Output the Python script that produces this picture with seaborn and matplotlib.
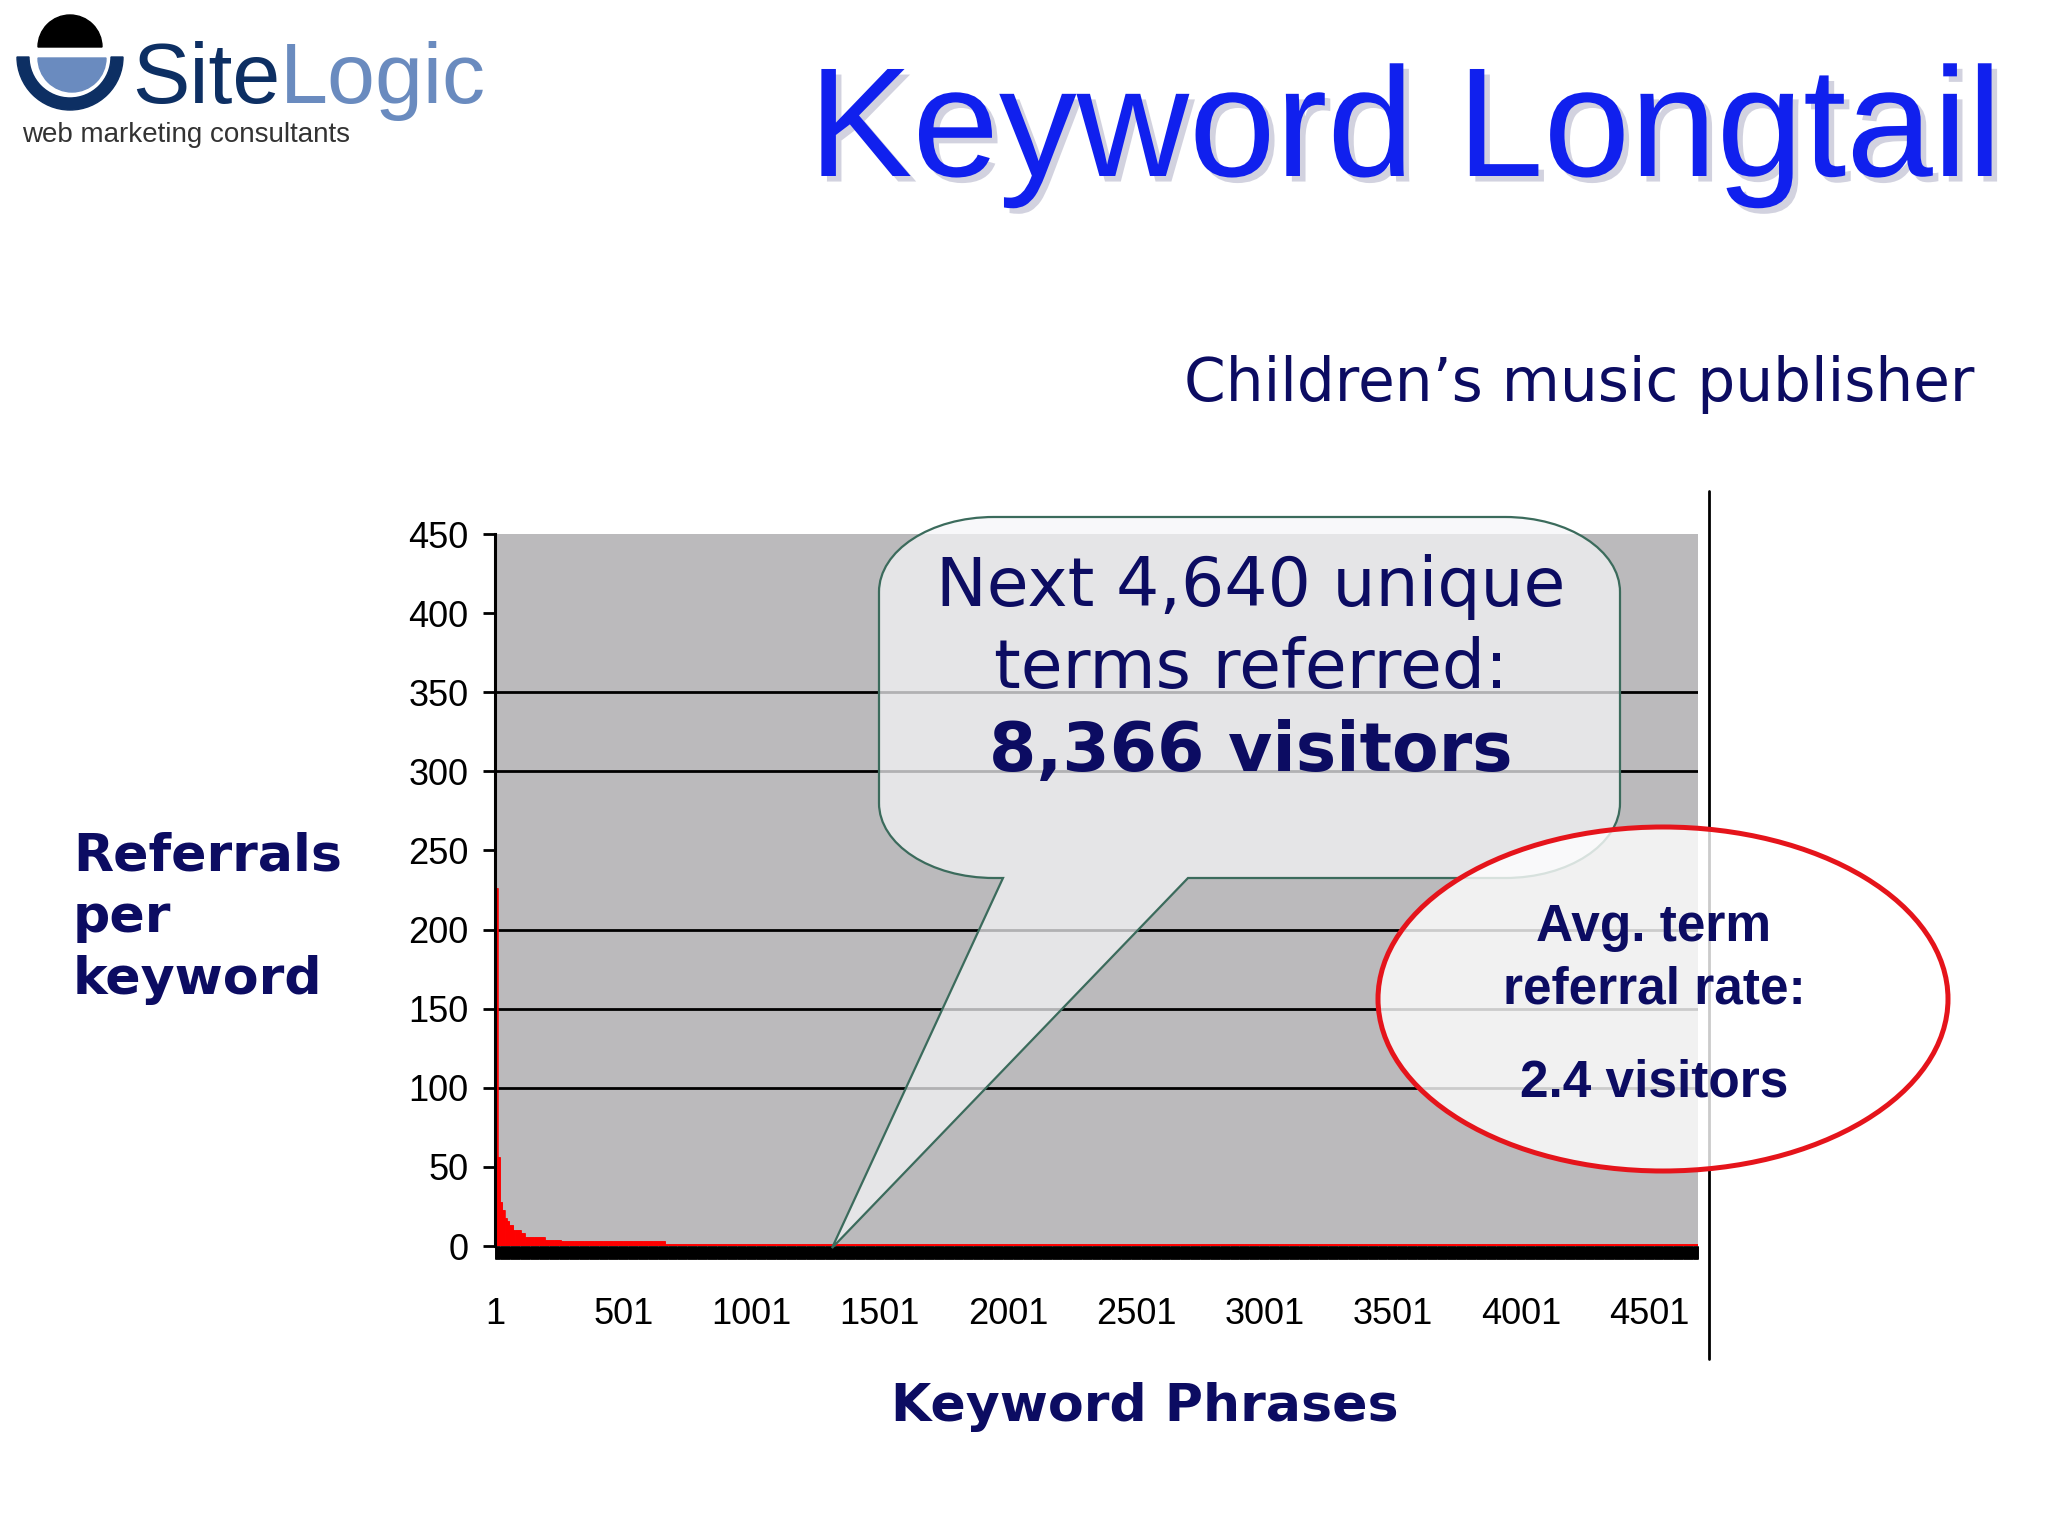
import numpy as np
import pandas as pd
import matplotlib
matplotlib.use('Agg')
import matplotlib.pyplot as plt
import seaborn as sns
from matplotlib.path import Path
from matplotlib.patches import PathPatch, Ellipse, Wedge
from matplotlib.transforms import Affine2D
from matplotlib.ticker import FixedLocator
from matplotlib.lines import Line2D
import matplotlib.patheffects as pe

ref_levels = [226, 56, 28, 23, 18, 16, 13, 10, 8, 6, 4, 3, 1]
ref_counts = [10, 10, 9, 9, 8, 10, 16, 29, 16, 77, 64, 405, 4027]
n_terms = sum(ref_counts)

x_ticks = [1, 501, 1001, 1501, 2001, 2501, 3001, 3501, 4001, 4501]
y_ticks = [0, 50, 100, 150, 200, 250, 300, 350, 400, 450]
grid_levels = [100, 150, 200, 300, 350]

df = pd.DataFrame({'rank': np.arange(1, n_terms + 1),
                   'refs': np.repeat(ref_levels, ref_counts)})

sns.set_theme(style='white')
plt.rcParams['font.family'] = ['DejaVu Sans']

navy = '#0c0c62'
W, H = 2048, 1536
fig = plt.figure(figsize=(W / 100, H / 100), dpi=100)
fig.patch.set_facecolor('white')
# pixel coords of the slide, y pointing down
px = Affine2D().scale(1 / W, -1 / H).translate(0, 1) + fig.transFigure

ax = fig.add_axes([495 / W, 1 - 1246 / H, 1203 / W, (1246 - 534) / H])
ax.set_facecolor('#bbbabc')
sns.barplot(data=df, x='rank', y='refs', native_scale=True, color='#ff0000',
            saturation=1, width=1, edgecolor='#ff0000', linewidth=0.4,
            errorbar=None, ax=ax, zorder=2)
ax.set_xlim(0.5, n_terms + 0.5)
ax.set_ylim(0, 450)
for g in grid_levels:
    ax.axhline(g, color='black', lw=2, zorder=1)

for s in ['top', 'right', 'bottom']:
    ax.spines[s].set_visible(False)
ax.spines['left'].set_color('black')
ax.spines['left'].set_linewidth(2.2)
ax.spines['left'].set_zorder(3)

ax.set_yticks(y_ticks)
ax.tick_params(axis='y', left=True, length=9, width=2, color='black', pad=10,
               labelsize=26, labelcolor='black', direction='out')
ax.set_xticks(x_ticks)
ax.xaxis.set_minor_locator(FixedLocator(np.arange(1, n_terms + 1)))
ax.tick_params(axis='x', which='both', bottom=True, length=9.5, width=0.6,
               color='black', direction='out')
ax.tick_params(axis='x', which='major', pad=27, labelsize=26, labelcolor='black')
for lbl in ax.get_xticklabels() + ax.get_yticklabels():
    lbl.set_fontfamily('Liberation Sans')
ax.set_xlabel('')
ax.set_ylabel('')

fig.add_artist(Line2D([1709, 1709], [491, 1359], transform=px, color='black', lw=2))

# axis titles
fig.text(73, 918, 'Referrals\nper\nkeyword', transform=px, ha='left', va='center',
         fontsize=37.5, fontweight='bold', color=navy, linespacing=1.3)
fig.text(1145, 1407, 'Keyword Phrases', transform=px, ha='center', va='center',
         fontsize=37.5, fontweight='bold', color=navy)
fig.text(1975, 385, 'Children\u2019s music publisher', transform=px, ha='right',
         va='center', fontsize=43, color=navy)

# title
fig.text(1405, 176, 'Keyword Longtail', transform=px, ha='center', va='baseline',
         fontsize=112, color='#1020ee', family='Liberation Sans',
         path_effects=[pe.withSimplePatchShadow(offset=(4, -4), shadow_rgbFace='#9090b0', alpha=0.4)])

# logo
fig.add_artist(Wedge((70, 47), 32, 180, 360, transform=px, color='black'))
fig.add_artist(Wedge((72, 58), 34, 0, 180, transform=px, color='#6a8bbf'))
fig.add_artist(Wedge((70, 57), 53, 0, 180, width=12, transform=px, color='#0d2f63'))
site = fig.text(132, 103, 'Site', transform=px, ha='left', va='baseline', fontsize=62,
                color='#0d2f63', family='Liberation Sans')
fig.canvas.draw()
site_right = site.get_window_extent().x1
fig.text(site_right, 103, 'Logic', transform=px, ha='left', va='baseline', fontsize=62,
         color='#6a8bbf', family='Liberation Sans')
fig.text(22, 142, 'web marketing consultants', transform=px, ha='left', va='baseline',
         fontsize=20, color='#333333', family='Liberation Sans')


def bubble_path(x0, y0, x1, y1, rx, ry, xa, xb, tip):
    k = 0.5523
    verts = [(x0 + rx, y0), (x1 - rx, y0),
             (x1 - rx + k * rx, y0), (x1, y0 + ry - k * ry), (x1, y0 + ry),
             (x1, y1 - ry),
             (x1, y1 - ry + k * ry), (x1 - rx + k * rx, y1), (x1 - rx, y1),
             (xb, y1), tip, (xa, y1), (x0 + rx, y1),
             (x0 + rx - k * rx, y1), (x0, y1 - ry + k * ry), (x0, y1 - ry),
             (x0, y0 + ry),
             (x0, y0 + ry - k * ry), (x0 + rx - k * rx, y0), (x0 + rx, y0),
             (x0 + rx, y0)]
    C = Path.CURVE4
    codes = ([Path.MOVETO, Path.LINETO, C, C, C, Path.LINETO, C, C, C,
              Path.LINETO, Path.LINETO, Path.LINETO, Path.LINETO, C, C, C,
              Path.LINETO, C, C, C, Path.CLOSEPOLY])
    return Path(verts, codes)


bubble = PathPatch(bubble_path(879, 517, 1620, 878, 115, 75, 1003, 1188, (832, 1248)),
                   transform=px, facecolor=(0.965, 0.965, 0.975, 0.72),
                   edgecolor='#3b6b5c', lw=1.6, zorder=3)
fig.add_artist(bubble)
fig.text(1251, 587, 'Next 4,640 unique', transform=px, ha='center', va='center',
         fontsize=49, color=navy, zorder=4)
fig.text(1251, 669, 'terms referred:', transform=px, ha='center', va='center',
         fontsize=49, color=navy, zorder=4)
fig.text(1251, 752, '8,366 visitors', transform=px, ha='center', va='center',
         fontsize=49, fontweight='bold', color=navy, zorder=4)

ell = Ellipse((1663, 999), 570, 344, transform=px, facecolor=(1, 1, 1, 0.8),
              edgecolor='#e5141b', lw=3.6, zorder=5)
fig.add_artist(ell)
for y, s in [(928, 'Avg. term'), (990, 'referral rate:'), (1083, '2.4 visitors')]:
    fig.text(1654, y, s, transform=px, ha='center', va='center', fontsize=37,
             fontweight='bold', color=navy, family='Liberation Sans', zorder=6)

fig.savefig('out.png', dpi=100, facecolor='white')
